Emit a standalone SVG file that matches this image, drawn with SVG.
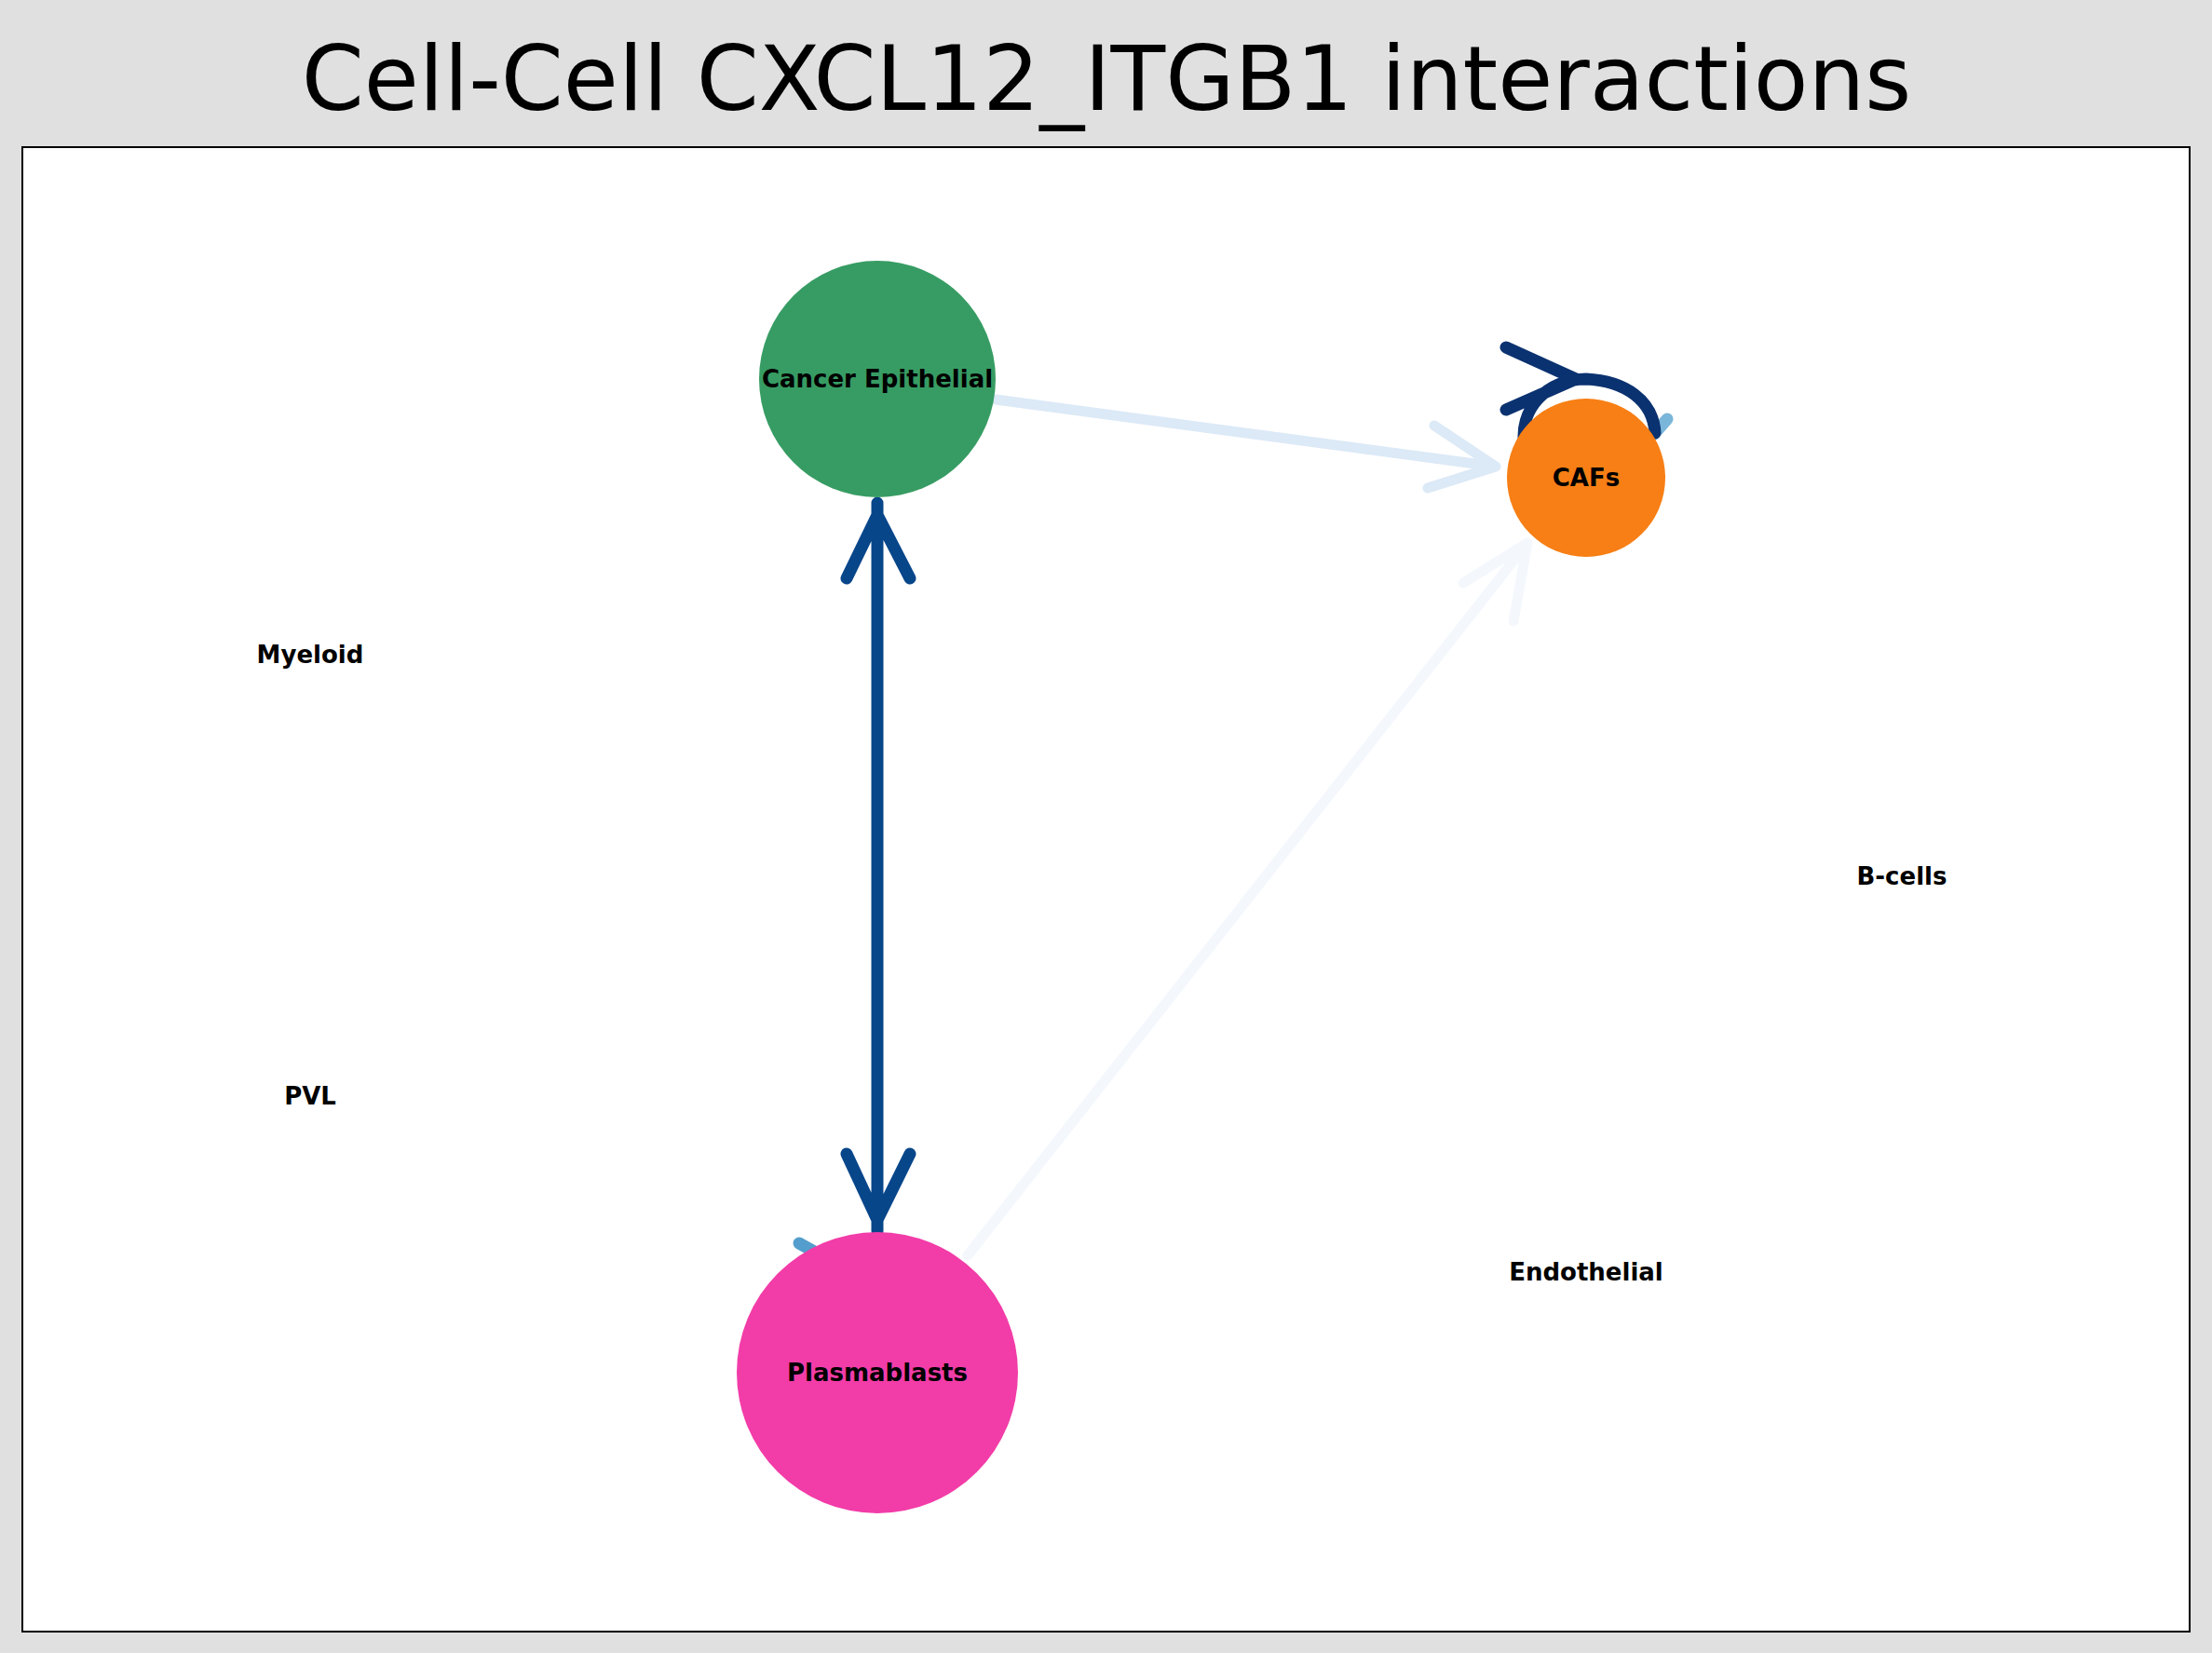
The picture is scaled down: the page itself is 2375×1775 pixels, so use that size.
<svg xmlns="http://www.w3.org/2000/svg" width="2375" height="1775" viewBox="0 0 2375 1775">
<style>
.lbl{font-family:"DejaVu Sans",sans-serif;font-weight:bold;font-size:26px;text-anchor:middle;dominant-baseline:central;fill:#000}
.e{fill:none;stroke-linecap:round;stroke-linejoin:round}
</style>
<rect width="2375" height="1775" fill="#e0e0e0"/>
<text x="1188" y="92" font-family="DejaVu Sans,sans-serif" font-size="96" text-anchor="middle" dominant-baseline="middle">Cell-Cell CXCL12_ITGB1 interactions</text>
<rect x="24" y="158" width="2327" height="1594" fill="#fff" stroke="#000" stroke-width="2"/>
<g id="connectors">
<path class="e" d="M1069,429 L1606,501 M1540,457 L1606,501 L1533,524" stroke="#dce9f6" stroke-width="11"/>
<path class="e" d="M1039,1348 L1640,583 M1571,626 L1640,583 L1625,667" stroke="#f4f8fd" stroke-width="11"/>
<path class="e" d="M942,540 L942,1322 M909,621 L942,553 L977,621 M909,1239 L942,1310 L977,1239" stroke="#08468a" stroke-width="13"/>
<path class="e" d="M858,1335 L885,1350" stroke="#539ecd" stroke-width="13"/>
<path class="e" d="M1790,450 L1776,466" stroke="#7ab6d9" stroke-width="13"/>
<path class="e" d="M1637,480 C1630,440 1660,407 1703,407 C1745,409 1775,430 1777,465 M1617,373 L1692,407 L1617,440" stroke="#0b3270" stroke-width="13"/>
</g>
<g id="cancer-epithelial"><circle cx="942" cy="407" r="127" fill="#379c63"/><text class="lbl" x="942" y="407">Cancer Epithelial</text></g>
<g id="cafs"><circle cx="1703" cy="513" r="85" fill="#f77f15"/><text class="lbl" x="1703" y="513">CAFs</text></g>
<g id="plasmablasts"><circle cx="942" cy="1474" r="151" fill="#f23ca8"/><text class="lbl" x="942" y="1474">Plasmablasts</text></g>
<g id="myeloid"><text class="lbl" x="333" y="703">Myeloid</text></g>
<g id="pvl"><text class="lbl" x="333" y="1177">PVL</text></g>
<g id="b-cells"><text class="lbl" x="2042" y="941">B-cells</text></g>
<g id="endothelial"><text class="lbl" x="1703" y="1366">Endothelial</text></g>
</svg>
